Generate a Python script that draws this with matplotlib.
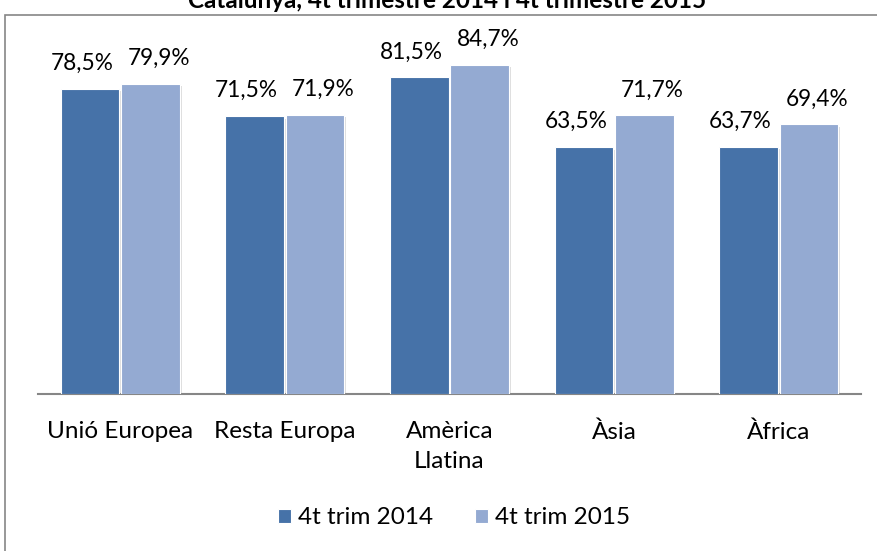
import matplotlib.pyplot as plt
import matplotlib.patches as mpatches
import numpy as np

plt.rcParams['font.family'] = ['Lato', 'DejaVu Sans']

# dades
categories = ['Unió Europea', 'Resta Europa', 'Amèrica\nLlatina', 'Àsia', 'Àfrica']
series_names = ['4t trim 2014', '4t trim 2015']
vals_2014 = [78.5, 71.5, 81.5, 63.5, 63.7]
vals_2015 = [79.9, 71.9, 84.7, 71.7, 69.4]
title = 'Catalunya, 4t trimestre 2014 i 4t trimestre 2015'

col_2014 = '#4672A8'
col_2015 = '#94AAD2'

W, H = 877, 551
fig = plt.figure(figsize=(W / 100, H / 100), dpi=100)

# area del grafic en pixels
left, right, base = 38, 861, 394
top = base - 100 * 3.885
ax = fig.add_axes([left / W, 1 - base / H, (right - left) / W, (base - top) / H])

x = np.arange(len(categories))
w = 0.355
b1 = ax.bar(x - w / 2 - 0.006, vals_2014, w, color=col_2014, edgecolor='white', linewidth=0.8,
            label=series_names[0], zorder=3)
b2 = ax.bar(x + w / 2 + 0.006, vals_2015, w, color=col_2015, edgecolor='white', linewidth=0.8,
            label=series_names[1], zorder=3)

# ombra suau
for bars in (b1, b2):
    for r in bars:
        sh = mpatches.Rectangle((r.get_x() + 0.012, 0), r.get_width(), r.get_height() - 0.6,
                                color='#c8c8c8', alpha=0.6, zorder=2, lw=0)
        ax.add_patch(sh)

# etiquetes de dades (desplacades com a l'original)
for bars, vals, dx in ((b1, vals_2014, -5.8), (b2, vals_2015, 5.8)):
    for r, v in zip(bars, vals):
        ax.annotate(f'{v:.1f}%'.replace('.', ','), (r.get_x() + r.get_width() / 2, v),
                    xytext=(dx, 13.7), textcoords='offset points', ha='center', va='baseline',
                    fontsize=16.3)

ax.set_xlim(-0.5, len(categories) - 0.5)
ax.set_ylim(0, 100)
ax.set_yticks([])
ax.set_xticks(x)
ax.set_xticklabels(categories, fontsize=17.5, linespacing=1.5)
ax.tick_params(axis='x', length=0, pad=19.5)
for s in ['top', 'left', 'right']:
    ax.spines[s].set_visible(False)
ax.spines['bottom'].set_color('#868686')
ax.spines['bottom'].set_linewidth(1.5)
ax.set_facecolor('none')

# marc exterior
frame = mpatches.Rectangle((5 / W, -0.05), 1.05, 1 - 14.5 / H + 0.05, transform=fig.transFigure,
                           fill=False, edgecolor='#868686', linewidth=1.2)
fig.patches.append(frame)

fig.text(447 / W, 1 - 8 / H, title, ha='center', va='baseline', fontsize=17.5,
         fontweight='bold')

fig.legend(handles=[b1, b2], labels=series_names, loc='center', bbox_to_anchor=(454 / W, 1 - 518 / H),
           ncol=2, frameon=False, fontsize=17.5, handlelength=0.55, handleheight=0.55,
           handletextpad=0.3, columnspacing=1.7)

fig.savefig('out.png', dpi=100)
